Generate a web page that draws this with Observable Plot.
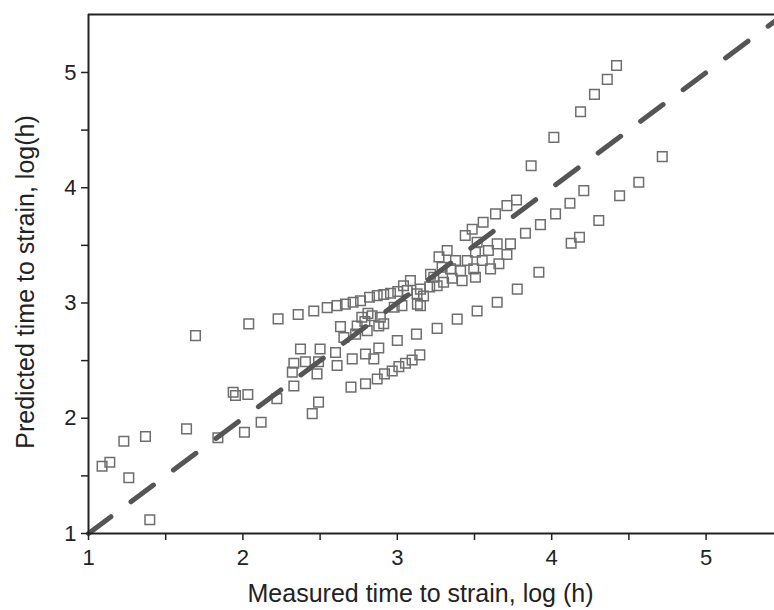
<!DOCTYPE html>
<html><head><meta charset="utf-8">
<script src="https://cdn.jsdelivr.net/npm/d3@7"></script>
<script src="https://cdn.jsdelivr.net/npm/@observablehq/plot@0.6"></script>
<style>body{margin:0;background:#fff;}</style>
</head><body><div id="chart"></div>
<script>
const measured = [1.088,1.138,1.229,1.261,1.369,1.397,1.635,1.693,1.838,1.937,1.952,2.010,2.032,2.038,2.118,2.220,2.228,2.320,2.330,2.330,2.358,2.373,2.405,2.449,2.459,2.480,2.490,2.490,2.500,2.546,2.600,2.610,2.610,2.632,2.654,2.664,2.700,2.708,2.714,2.730,2.740,2.762,2.770,2.790,2.794,2.794,2.805,2.810,2.820,2.837,2.848,2.870,2.870,2.880,2.880,2.890,2.912,2.912,2.917,2.956,2.967,2.980,3.000,3.003,3.010,3.030,3.040,3.053,3.064,3.085,3.096,3.128,3.124,3.130,3.146,3.150,3.150,3.170,3.210,3.215,3.236,3.258,3.258,3.270,3.290,3.300,3.323,3.345,3.355,3.377,3.388,3.410,3.420,3.440,3.453,3.485,3.495,3.506,3.506,3.517,3.517,3.550,3.556,3.590,3.604,3.636,3.647,3.647,3.658,3.710,3.710,3.733,3.772,3.777,3.830,3.867,3.917,3.927,4.014,4.025,4.118,4.126,4.180,4.187,4.208,4.277,4.305,4.360,4.420,4.440,4.564,4.716];
const predicted = [1.584,1.618,1.800,1.483,1.841,1.119,1.908,2.717,1.830,2.225,2.197,1.879,2.206,2.819,1.965,2.170,2.862,2.400,2.280,2.477,2.900,2.600,2.490,2.040,2.930,2.385,2.490,2.140,2.600,2.960,2.570,2.457,2.977,2.795,2.700,2.990,2.270,2.515,3.006,2.730,2.800,3.020,2.876,2.840,2.300,2.558,2.760,2.910,3.050,2.890,2.515,2.340,3.064,2.800,2.610,2.876,2.820,3.073,2.385,3.084,2.410,2.963,2.674,3.100,2.448,2.977,3.150,2.477,3.108,3.194,2.506,3.080,2.730,2.990,2.550,3.120,2.977,3.060,3.140,3.250,3.223,2.780,3.150,3.400,3.310,3.180,3.455,3.296,3.215,3.368,2.860,3.280,3.194,3.585,3.368,3.640,3.296,3.440,3.223,3.527,2.930,3.368,3.700,3.455,3.296,3.773,3.513,3.006,3.340,3.845,3.420,3.513,3.894,3.120,3.605,4.190,3.266,3.680,4.437,3.773,3.865,3.518,3.570,4.660,3.975,4.810,3.715,4.940,5.060,3.930,4.047,4.270];
const identityLine = [1, 5.443];
const majorTicks = [1, 2, 3, 4, 5];
const minorTicks = [1.5, 2.5, 3.5, 4.5];
const xTitle = "Measured time to strain, log (h)";
const yTitle = "Predicted time to strain, log(h)";

const points = measured.map((m, i) => ({m, p: predicted[i]}));
const diag = identityLine.map(v => ({m: v, p: v}));

const chart = Plot.plot({
  width: 774, height: 610,
  marginLeft: 88, marginRight: 0, marginTop: 14, marginBottom: 77,
  style: {fontFamily: "'Liberation Sans', Arial, sans-serif", fontSize: "22px", background: "#fff", color: "#222", overflow: "visible"},
  x: {domain: [1, 5.443]},
  y: {domain: [1, 5.503]},
  marks: [
    Plot.dot(points, {x: "m", y: "p", symbol: "square", r: 5.4, stroke: "#6e6e6e", strokeWidth: 1.5, fill: "none"}),
    Plot.line(diag, {x: "m", y: "p", stroke: "#555", strokeWidth: 5, strokeDasharray: "28,25"}),
    Plot.axisX(majorTicks, {tickSize: 7, tickPadding: 9, fontSize: 22, tickFormat: d3.format("d"), label: null, stroke: "#222", strokeWidth: 1.5}),
    Plot.axisX(minorTicks, {tickSize: 7, tickFormat: () => "", label: null, stroke: "#222", strokeWidth: 1.5}),
    Plot.axisY(majorTicks, {tickSize: 7, tickPadding: 5, fontSize: 22, tickFormat: d3.format("d"), label: null, stroke: "#222", strokeWidth: 1.5}),
    Plot.axisY(minorTicks, {tickSize: 7, tickFormat: () => "", label: null, stroke: "#222", strokeWidth: 1.5}),
    Plot.ruleY([1], {stroke: "#222", strokeWidth: 2}),
    Plot.ruleY([5.503], {stroke: "#222", strokeWidth: 2}),
    Plot.ruleX([1], {stroke: "#222", strokeWidth: 2}),
    Plot.text([xTitle], {frameAnchor: "bottom", textAnchor: "middle", lineAnchor: "middle", dx: -11, dy: 60, fontSize: 25, fill: "#222"}),
    Plot.text([yTitle], {frameAnchor: "left", textAnchor: "middle", lineAnchor: "middle", rotate: -90, dx: -63, dy: 8, fontSize: 25, fill: "#222"})
  ]
});
document.getElementById("chart").appendChild(chart);
</script>
</body></html>
